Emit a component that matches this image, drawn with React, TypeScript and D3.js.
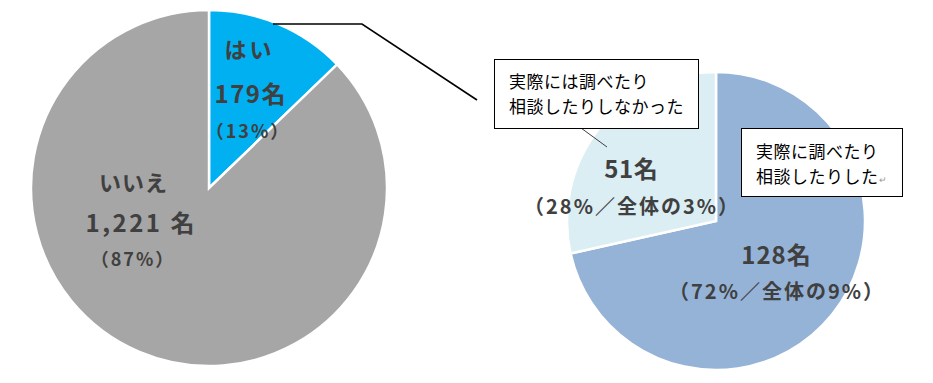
import React from "react";
import * as d3 from "d3";

const leftCategories = ["はい", "いいえ"];
const leftValues = [179, 1221];
const leftCountLabels = ["179名", "1,221 名"];
const leftPctLabels = ["（13%）", "（87%）"];
const leftColors = ["#00B0F0", "#A6A6A6"];

const rightCategories = ["実際に調べたり相談したりした", "実際には調べたり相談したりしなかった"];
const rightValues = [128, 51];
const rightCountLabels = ["128名", "51名"];
const rightPctLabels = ["（72%／全体の9%）", "（28%／全体の3%）"];
const rightColors = ["#95B3D7", "#DBEEF4"];

const W = 933;
const H = 383;
const FONT = "'Noto Sans CJK JP', 'Noto Sans', sans-serif";
const TXT = "#404040";

function T(props: { x: number; y: number; size: number; ls?: number; children: React.ReactNode }) {
  const ls = props.ls || 0;
  return (
    <text x={props.x + ls / 2} y={props.y} dy="0.35em" fontSize={props.size} letterSpacing={ls}>
      {props.children}
    </text>
  );
}

export default function App() {
  const pie = d3.pie<number>().sort(null).value((d) => d);
  const lArcs = pie(leftValues);
  const rArcs = pie(rightValues);
  const lc = { x: 209, y: 188, r: 178 };
  const rc = { x: 716, y: 221, r: 149 };
  const lArc = d3.arc<d3.PieArcDatum<number>>().innerRadius(0).outerRadius(lc.r);
  const rArc = d3.arc<d3.PieArcDatum<number>>().innerRadius(0).outerRadius(rc.r);

  const lLabelPos = [
    { x: 250, y: 50, c: 95, p: 132, cls: 3, nls: 1.5, cx: 250 },
    { x: 135, y: 183, c: 224, p: 260, cls: 1, nls: 2.5, cx: 140 },
  ];
  const rLabelPos = [
    { x: 776, y: 256, p: 292, nls: 1 },
    { x: 631, y: 170, p: 207, nls: 0.5 },
  ];

  return (
    <svg width={W} height={H} style={{ position: "absolute", left: 0, top: 0 }} fontFamily={FONT}>
      <rect width={W} height={H} fill="#fff" />
      <g transform={`translate(${lc.x},${lc.y})`}>
        {lArcs.map((a, i) => (
          <path key={i} d={lArc(a) || ""} fill={leftColors[i]} stroke="#fff" strokeWidth={2.5} />
        ))}
      </g>
      <g transform={`translate(${rc.x},${rc.y})`}>
        {rArcs.map((a, i) => (
          <path key={i} d={rArc(a) || ""} fill={rightColors[i]} stroke="#fff" strokeWidth={2.5} />
        ))}
      </g>

      {leftCategories.map((c, i) => {
        const p = lLabelPos[i];
        return (
          <g key={c} fill={TXT} fontWeight="bold" textAnchor="middle">
            <T x={p.x - 2} y={p.y} size={22} ls={p.cls}>{c}</T>
            <T x={p.cx} y={p.c} size={24} ls={p.nls}>{leftCountLabels[i]}</T>
            <T x={p.x - 3} y={p.p} size={18} ls={2}>{leftPctLabels[i]}</T>
          </g>
        );
      })}

      {rightCategories.map((c, i) => {
        const p = rLabelPos[i];
        return (
          <g key={c} fill={TXT} fontWeight="bold" textAnchor="middle">
            <T x={p.x} y={p.y} size={24} ls={p.nls}>{rightCountLabels[i]}</T>
            <T x={p.x} y={p.p} size={20} ls={2}>{rightPctLabels[i]}</T>
          </g>
        );
      })}

      <polyline points="273,24 362,24 477,100" fill="none" stroke="#000" strokeWidth={1.6} />

      <line x1={581} y1={128} x2={607} y2={147} stroke="#404040" strokeWidth={1} />
      <rect x={494.5} y={59.5} width={204} height={69} fill="#fff" stroke="#000" strokeWidth={1} />
      <g fontSize={17} letterSpacing={0.5} fill="#000">
        <text x={509} y={82} dy="0.35em">実際には調べたり</text>
        <text x={509} y={107} dy="0.35em">相談したりしなかった</text>
      </g>

      <rect x={741.5} y={128.5} width={161} height={68} fill="#fff" stroke="#000" strokeWidth={1} />
      <g fontSize={17} letterSpacing={0.5} fill="#000">
        <text x={756} y={152} dy="0.35em">実際に調べたり</text>
        <text x={756} y={177} dy="0.35em">
          相談したりした<tspan fontSize={9} fill="#999" letterSpacing={0}>↵</tspan>
        </text>
      </g>
    </svg>
  );
}
